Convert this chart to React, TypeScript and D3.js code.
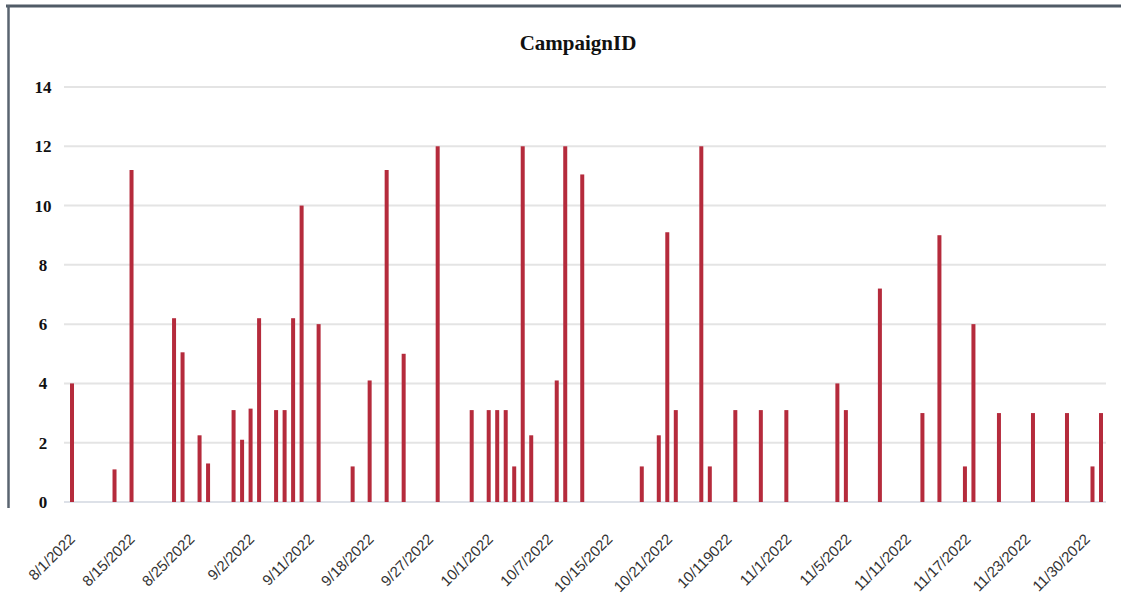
import React from "react";
import * as d3 from "d3";

// ---- data ----
const barDates: string[] = [
  "2022-08-01", "2022-08-06", "2022-08-08", "2022-08-13", "2022-08-14", "2022-08-16", "2022-08-17",
  "2022-08-20", "2022-08-21", "2022-08-22", "2022-08-23", "2022-08-25", "2022-08-26", "2022-08-27",
  "2022-08-28", "2022-08-30", "2022-09-03", "2022-09-05", "2022-09-07", "2022-09-09", "2022-09-13",
  "2022-09-17", "2022-09-19", "2022-09-20", "2022-09-21", "2022-09-22", "2022-09-23", "2022-09-24",
  "2022-09-27", "2022-09-28", "2022-09-30", "2022-10-07", "2022-10-09", "2022-10-10", "2022-10-11",
  "2022-10-14", "2022-10-15", "2022-10-18", "2022-10-21", "2022-10-24", "2022-10-30", "2022-10-31",
  "2022-11-04", "2022-11-09", "2022-11-11", "2022-11-14", "2022-11-15", "2022-11-18", "2022-11-22",
  "2022-11-26", "2022-11-29", "2022-11-30",
];
const barValues: number[] = [
  4, 1.1, 11.2, 6.2, 5.05, 2.25, 1.3,
  3.1, 2.1, 3.15, 6.2, 3.1, 3.1, 6.2,
  10, 6, 1.2, 4.1, 11.2, 5, 12,
  3.1, 3.1, 3.1, 3.1, 1.2, 12, 2.25,
  4.1, 12, 11.05, 1.2, 2.25, 9.1, 3.1,
  12, 1.2, 3.1, 3.1, 3.1, 4, 3.1,
  7.2, 3, 9, 1.2, 6, 3, 3,
  3, 1.2, 3,
];
const xTickLabels: string[] = [
  "8/1/2022", "8/15/2022", "8/25/2022", "9/2/2022", "9/11/2022", "9/18/2022", "9/27/2022",
  "10/1/2022", "10/7/2022", "10/15/2022", "10/21/2022", "10/119022", "11/1/2022", "11/5/2022",
  "11/11/2022", "11/17/2022", "11/23/2022", "11/30/2022",
];
const yTicks: number[] = [0, 2, 4, 6, 8, 10, 12, 14];
const title = "CampaignID";
const domainStart = "2022-08-01";
const domainEnd = "2022-11-30";

const W = 1121;
const H = 599;

export default function App() {
  const parse = d3.utcParse("%Y-%m-%d");
  const x = d3
    .scaleUtc()
    .domain([parse(domainStart) as Date, parse(domainEnd) as Date])
    .range([72, 1101]);
  const y = d3.scaleLinear().domain([0, 14]).range([502, 87]);
  const xl = d3.scalePoint<string>().domain(xTickLabels).range([76, 1091]);

  const serif = "'Liberation Serif', 'Times New Roman', serif";
  const sans = "'Liberation Sans', Arial, sans-serif";

  return (
    <div style={{ position: "fixed", left: 0, top: 0 }}>
      <svg width={W} height={H} style={{ display: "block", background: "#fff" }}>
        {/* frame */}
        <line x1={6} x2={W} y1={6} y2={6} stroke="#505b66" strokeWidth={3} />
        <line x1={8.5} x2={8.5} y1={5} y2={508} stroke="#5a6470" strokeWidth={2.5} />

        {/* title */}
        <text
          x={578}
          y={50}
          textAnchor="middle"
          fontFamily={serif}
          fontWeight="bold"
          fontSize={21}
          fill="#111"
        >
          {title}
        </text>

        {/* grid */}
        {yTicks.map((t) => (
          <line
            key={"g" + t}
            x1={64}
            x2={1106}
            y1={y(t)}
            y2={y(t)}
            stroke={t === 0 ? "#dde1e8" : "#e4e4e4"}
            strokeWidth={2}
          />
        ))}

        {/* y labels */}
        {yTicks.map((t) => (
          <text
            key={"y" + t}
            x={43}
            y={y(t)}
            dy="0.35em"
            textAnchor="middle"
            fontFamily={serif}
            fontWeight="bold"
            fontSize={17}
            fill="#111"
          >
            {t}
          </text>
        ))}

        {/* bars */}
        {barDates.map((d, i) => {
          const cx = x(parse(d) as Date);
          return (
            <rect
              key={"b" + i}
              x={cx - 2}
              width={4}
              y={y(barValues[i])}
              height={y(0) - y(barValues[i])}
              fill="#b52b3c"
            />
          );
        })}

        {/* x labels */}
        {xTickLabels.map((l) => (
          <text
            key={"x" + l}
            transform={`translate(${xl(l)},540) rotate(-45)`}
            textAnchor="end"
            fontFamily={sans}
            fontSize={15}
            fill="#333"
          >
            {l}
          </text>
        ))}
      </svg>
    </div>
  );
}
